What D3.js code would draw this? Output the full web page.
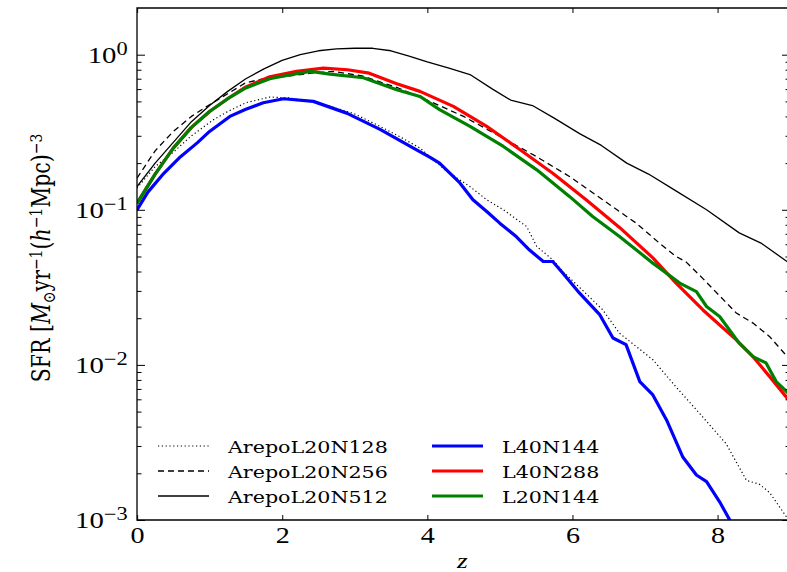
<!DOCTYPE html>
<html>
<head>
<meta charset="utf-8">
<script src="https://cdn.jsdelivr.net/npm/d3@7"></script>
<style>
  body { margin: 0; background: #fff; }
  svg { display: block; }
  #chart line, #chart path, #chart rect { vector-effect: non-scaling-stroke; }
</style>
</head>
<body>
<svg id="chart"></svg>
<script>
// redshift / SFR density
const zA128 = [0, 0.25, 0.5, 0.75, 1.05, 1.25, 1.5, 1.83, 2.1, 2.5, 3.0, 3.35, 3.6, 3.9, 4.27, 4.59, 4.82, 5.05, 5.37, 5.51, 5.73, 5.87, 6.15, 6.42, 6.65, 7.11, 7.43, 7.8, 8.12, 8.4, 8.58, 8.72, 8.95, 9.0];
const sfrA128 = [0.138, 0.19, 0.235, 0.3, 0.38, 0.43, 0.49, 0.533, 0.526, 0.49, 0.415, 0.345, 0.30, 0.25, 0.177, 0.141, 0.116, 0.10, 0.078, 0.058, 0.0476, 0.040, 0.030, 0.0226, 0.016, 0.0108, 0.0072, 0.0046, 0.0031, 0.0018, 0.0017, 0.0015, 0.00105, 0.00095];

const zA256 = [0, 0.25, 0.5, 0.75, 1.0, 1.25, 1.5, 1.75, 2.0, 2.4, 2.7, 3.1, 3.6, 4.04, 4.5, 4.96, 5.5, 5.96, 6.42, 6.88, 7.2, 7.43, 7.57, 7.8, 8.26, 8.49, 8.72, 9.0];
const sfrA256 = [0.16, 0.24, 0.32, 0.4, 0.476, 0.56, 0.66, 0.70, 0.72, 0.76, 0.78, 0.73, 0.61, 0.50, 0.40, 0.305, 0.221, 0.164, 0.116, 0.082, 0.061, 0.050, 0.046, 0.036, 0.0216, 0.0186, 0.0152, 0.0108];

const zA512 = [0, 0.25, 0.5, 0.75, 1.0, 1.25, 1.5, 1.75, 2.0, 2.25, 2.5, 2.75, 3.0, 3.25, 3.5, 3.75, 4.0, 4.3, 4.6, 4.9, 5.15, 5.45, 5.75, 6.1, 6.4, 6.75, 7.05, 7.4, 7.85, 8.3, 8.6, 9.0];
const sfrA512 = [0.141, 0.2, 0.272, 0.37, 0.47, 0.58, 0.70, 0.81, 0.92, 1.0, 1.06, 1.09, 1.10, 1.10, 1.06, 0.98, 0.90, 0.82, 0.74, 0.60, 0.51, 0.47, 0.39, 0.31, 0.26, 0.20, 0.17, 0.135, 0.10, 0.071, 0.061, 0.045];

const zL40N144 = [0, 0.15, 0.37, 0.6, 0.83, 1.0, 1.28, 1.5, 1.74, 2.02, 2.43, 2.89, 3.35, 3.81, 4.04, 4.17, 4.45, 4.63, 4.82, 5.0, 5.23, 5.41, 5.6, 5.73, 5.87, 6.1, 6.38, 6.56, 6.74, 6.93, 7.11, 7.3, 7.52, 7.71, 7.85, 8.03, 8.17, 8.3];
const sfrL40N144 = [0.1, 0.13, 0.172, 0.22, 0.27, 0.32, 0.40, 0.445, 0.49, 0.52, 0.50, 0.42, 0.33, 0.25, 0.218, 0.20, 0.149, 0.116, 0.0975, 0.082, 0.067, 0.055, 0.0464, 0.0464, 0.039, 0.029, 0.021, 0.0149, 0.0135, 0.0078, 0.0064, 0.0044, 0.00256, 0.00195, 0.00177, 0.00131, 0.001, 0.0008];

const zL40N288 = [0, 0.25, 0.5, 0.75, 1.0, 1.25, 1.5, 1.83, 2.2, 2.57, 2.9, 3.2, 3.58, 3.9, 4.36, 4.82, 5.28, 5.73, 6.19, 6.65, 7.11, 7.43, 7.8, 8.26, 8.49, 8.72, 9.0];
const sfrL40N288 = [0.11, 0.17, 0.25, 0.34, 0.43, 0.52, 0.62, 0.72, 0.78, 0.82, 0.80, 0.76, 0.65, 0.58, 0.464, 0.345, 0.244, 0.172, 0.116, 0.077, 0.049, 0.0337, 0.0226, 0.0145, 0.0113, 0.0084, 0.0058];

const zL20N144 = [0, 0.25, 0.5, 0.75, 1.0, 1.25, 1.5, 1.83, 2.1, 2.39, 2.66, 3.12, 3.58, 3.9, 4.17, 4.59, 5.05, 5.51, 5.96, 6.28, 6.65, 7.11, 7.48, 7.71, 7.85, 8.03, 8.3, 8.49, 8.67, 8.81, 9.0];
const sfrL20N144 = [0.11, 0.17, 0.25, 0.34, 0.43, 0.52, 0.61, 0.70, 0.74, 0.78, 0.75, 0.71, 0.595, 0.538, 0.442, 0.345, 0.256, 0.181, 0.122, 0.0905, 0.0673, 0.0453, 0.0337, 0.0297, 0.0238, 0.0205, 0.0138, 0.0113, 0.0103, 0.0078, 0.0064];

const seriesNames = ["ArepoL20N128", "ArepoL20N256", "ArepoL20N512", "L40N144", "L40N288", "L20N144"];
const xTicks = [0, 2, 4, 6, 8];
const yTicks = [1e-3, 1e-2, 1e-1, 1];
const yTickExp = ["\u22123", "\u22122", "\u22121", "0"];

const series = [
  { name: seriesNames[0], z: zA128, sfr: sfrA128 },
  { name: seriesNames[1], z: zA256, sfr: sfrA256 },
  { name: seriesNames[2], z: zA512, sfr: sfrA512 },
  { name: seriesNames[3], z: zL40N144, sfr: sfrL40N144 },
  { name: seriesNames[4], z: zL40N288, sfr: sfrL40N288 },
  { name: seriesNames[5], z: zL20N144, sfr: sfrL20N144 }
];

const styles = {
  ArepoL20N128: { color: "#000", width: 1.2, dash: "1.2,2.6" },
  ArepoL20N256: { color: "#000", width: 1.3, dash: "6,4" },
  ArepoL20N512: { color: "#000", width: 1.3, dash: null },
  L40N144: { color: "#0000ff", width: 3.2, dash: null },
  L40N288: { color: "#ff0000", width: 3.2, dash: null },
  L20N144: { color: "#008000", width: 3.2, dash: null }
};

// the figure is stretched sideways, so work in a narrower viewBox
const SX = 1.25;
const width = 787 / SX;
const height = 572;
const plotLeft = 137 / SX;
const plotRight = 790 / SX;
const plotTop = 8;
const plotBottom = 520;

const svg = d3.select("#chart")
  .attr("width", 787)
  .attr("height", height)
  .attr("viewBox", `0 0 ${width} ${height}`)
  .attr("preserveAspectRatio", "none");

const xScale = d3.scaleLinear().domain([0, 9]).range([plotLeft, plotRight]);
const yScale = d3.scaleLog().domain([1e-3, 2]).range([plotBottom, plotTop]);

const minorY = [];
[-3, -2, -1, 0].forEach(e => {
  for (let k = 2; k <= 9; k++) {
    const v = k * Math.pow(10, e);
    if (v < 2) minorY.push(v);
  }
});

svg.append("defs").append("clipPath")
  .attr("id", "plot-clip")
  .append("rect")
  .attr("x", plotLeft)
  .attr("y", plotTop)
  .attr("width", plotRight - plotLeft)
  .attr("height", plotBottom - plotTop);

const line = d3.line()
  .x(d => xScale(d[0]))
  .y(d => yScale(d[1]));

svg.append("g")
  .attr("clip-path", "url(#plot-clip)")
  .selectAll("path")
  .data(series)
  .enter()
  .append("path")
  .attr("d", s => line(s.z.map((z, i) => [z, s.sfr[i]])))
  .attr("fill", "none")
  .attr("stroke", s => styles[s.name].color)
  .attr("stroke-width", s => styles[s.name].width)
  .attr("stroke-dasharray", s => styles[s.name].dash)
  .attr("stroke-linejoin", "round");

// axes: ticks point inward on all four sides
const yMajorLen = 8 / SX;
const yMinorLen = 4.5 / SX;

const leftAxis = svg.append("g")
  .attr("transform", `translate(${plotLeft},0)`)
  .call(d3.axisLeft(yScale).tickValues(yTicks).tickSize(-yMajorLen).tickPadding(7.5));
leftAxis.selectAll("text")
  .attr("font-family", "Liberation Serif")
  .attr("font-size", 23)
  .attr("fill", "#000")
  .each(function (d, i) {
    const t = d3.select(this);
    t.text(null);
    t.append("tspan").text("10");
    t.append("tspan").attr("dy", "-0.42em").attr("font-size", "78%").text(yTickExp[i]);
  });

svg.append("g")
  .attr("transform", `translate(${plotLeft},0)`)
  .call(d3.axisLeft(yScale).tickValues(minorY).tickSize(-yMinorLen).tickFormat(""));

svg.append("g")
  .attr("transform", `translate(${plotRight},0)`)
  .call(d3.axisRight(yScale).tickValues(yTicks).tickSize(-yMajorLen).tickFormat(""));

svg.append("g")
  .attr("transform", `translate(${plotRight},0)`)
  .call(d3.axisRight(yScale).tickValues(minorY).tickSize(-yMinorLen).tickFormat(""));

const bottomAxis = svg.append("g")
  .attr("transform", `translate(0,${plotBottom})`)
  .call(d3.axisBottom(xScale).tickValues(xTicks).tickSize(-5).tickPadding(7).tickFormat(d3.format("d")));
bottomAxis.selectAll("text")
  .attr("font-family", "Liberation Serif")
  .attr("font-size", 22.5)
  .attr("fill", "#000");

svg.append("g")
  .attr("transform", `translate(0,${plotTop})`)
  .call(d3.axisTop(xScale).tickValues(xTicks).tickSize(-5).tickFormat(""));

svg.selectAll(".domain").remove();
svg.selectAll(".tick line").attr("stroke", "#000").attr("stroke-width", 1);

svg.append("rect")
  .attr("x", plotLeft)
  .attr("y", plotTop)
  .attr("width", plotRight - plotLeft)
  .attr("height", plotBottom - plotTop)
  .attr("fill", "none")
  .attr("stroke", "#000")
  .attr("stroke-width", 1.3);

// axis titles
svg.append("text")
  .attr("x", (plotLeft + plotRight) / 2 - 1)
  .attr("y", 568)
  .attr("font-family", "Liberation Serif")
  .attr("font-style", "italic")
  .attr("font-size", 22)
  .style("text-anchor", "middle")
  .text("z");

const yLabel = svg.append("text")
  .attr("transform", `translate(${50 / SX},258) rotate(-90)`)
  .attr("font-family", "DejaVu Serif")
  .attr("font-size", 20.5)
  .style("text-anchor", "middle");
yLabel.append("tspan").text("SFR [");
yLabel.append("tspan").attr("font-style", "italic").text("M");
yLabel.append("tspan").attr("font-size", "68%").attr("dy", "0.3em").text("\u2299");
yLabel.append("tspan").attr("dy", "-0.2em").text("yr");
yLabel.append("tspan").attr("font-size", "68%").attr("dy", "-0.45em").text("\u22121");
yLabel.append("tspan").attr("dy", "0.3em").text("(");
yLabel.append("tspan").attr("font-style", "italic").text("h");
yLabel.append("tspan").attr("font-size", "68%").attr("dy", "-0.45em").text("\u22121");
yLabel.append("tspan").attr("dy", "0.3em").text("Mpc)");
yLabel.append("tspan").attr("font-size", "68%").attr("dy", "-0.45em").text("\u22123");

// legend, two columns of three, no frame
const legend = svg.append("g")
  .selectAll("g")
  .data(series)
  .enter()
  .append("g")
  .attr("transform", (s, i) => `translate(${158 / SX + Math.floor(i / 3) * (274 / SX)},${446 + (i % 3) * 25})`);

legend.append("line")
  .attr("x1", 0)
  .attr("x2", 51 / SX)
  .attr("y1", 0)
  .attr("y2", 0)
  .attr("stroke", s => styles[s.name].color)
  .attr("stroke-width", s => styles[s.name].width)
  .attr("stroke-dasharray", s => styles[s.name].dash);

legend.append("text")
  .attr("x", 70 / SX)
  .attr("y", 6.5)
  .attr("font-family", "DejaVu Serif")
  .attr("font-size", 16.5)
  .text(s => s.name);
</script>
</body>
</html>
